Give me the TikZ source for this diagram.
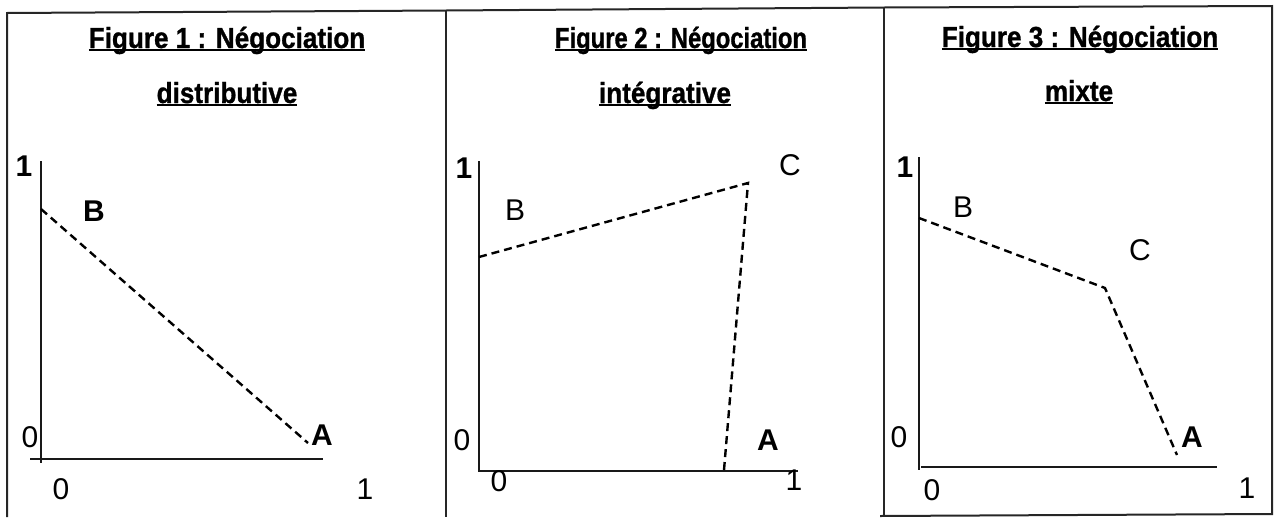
\documentclass[tikz,border=0pt]{standalone}
\usepackage{fontspec}
\setmainfont{Liberation Sans}
\newfontfamily\titlefont[FakeStretch=0.9,FakeBold=1]{Liberation Sans}
\newfontfamily\titlefontn[FakeStretch=0.82,FakeBold=1]{Liberation Sans}
\newcommand\myul[1]{\setbox0\hbox{#1}\rlap{\rule[-3.3pt]{\wd0}{2pt}}\box0}
\begin{document}
\begin{tikzpicture}[x=1pt,y=-1pt,
  frame/.style={line width=2pt,black!85},
  axis/.style={line width=2.8pt,black!90},
  dashline/.style={line width=2.4pt,dash pattern=on 8pt off 5pt},
  ttl/.style={anchor=base,inner sep=0pt,font={\fontsize{29}{29}\selectfont\titlefont\bfseries}},
  ttln/.style={anchor=base,inner sep=0pt,font={\fontsize{29}{29}\selectfont\titlefontn\bfseries}},
  lab/.style={inner sep=0pt,font={\fontsize{30}{30}\selectfont}},
  labb/.style={inner sep=0pt,font={\fontsize{30}{30}\selectfont\bfseries}}]
\useasboundingbox (0,0) rectangle (1274,517);
% frames
\coordinate (tl) at (7,13);
\coordinate (t1) at (446,10.5);
\coordinate (t2) at (884,7.5);
\coordinate (tr) at (1272,6);
\coordinate (bl) at (7,517);
\coordinate (b1) at (446,517);
\coordinate (b2) at (884,516);
\coordinate (b2l) at (880,516);
\coordinate (br) at (1272,514);
\draw[frame] (bl) -- (tl) -- (t1) -- (t2) -- (tr) -- (br) -- (b2l);
\draw[frame] (t1) -- (b1);
\draw[frame] (t2) -- (b2);

% ---------- Figure 1 ----------
\node[ttl] (t1a) at (227,48) {\myul{Figure 1 : Négociation}};
\node[ttl] (t1b) at (227,103) {\myul{distributive}};
\coordinate (y1top) at (41,161);
\coordinate (y1bot) at (41,463);
\coordinate (x1l) at (30,459);
\coordinate (x1r) at (323,459);
\draw[axis] (y1top) -- (y1bot);
\draw[axis] (x1l) -- (x1r);
\coordinate (f1b) at (41,209);
\coordinate (f1a) at (308,443);
\draw[dashline] (f1b) -- (f1a);
\node[labb] (l1y1) at (24,166) {1};
\node[lab] (l1y0) at (30,437) {0};
\node[lab] (l1x0) at (61,489) {0};
\node[lab] (l1x1) at (365,489) {1};
\node[labb] (l1B) at (94,211) {B};
\node[labb] (l1A) at (322,435) {A};

% ---------- Figure 2 ----------
\node[ttln] (t2a) at (681,48) {\myul{Figure 2 : Négociation}};
\node[ttl] (t2b) at (665,103) {\myul{intégrative}};
\coordinate (y2top) at (479,161);
\coordinate (y2bot) at (479,472);
\coordinate (x2l) at (479,471);
\coordinate (x2r) at (798,471);
\draw[axis] (y2top) -- (y2bot);
\draw[axis] (x2l) -- (x2r);
\coordinate (f2b) at (479,257);
\coordinate (f2c) at (748,183);
\coordinate (f2a) at (724,470);
\draw[dashline] (f2b) -- (f2c) -- (f2a);
\node[labb] (l2y1) at (464,168) {1};
\node[lab] (l2y0) at (462,440) {0};
\node[lab] (l2x0) at (499,481) {0};
\node[lab] (l2x1) at (794,480) {1};
\node[lab] (l2B) at (515,210) {B};
\node[lab] (l2C) at (790,165) {C};
\node[labb] (l2A) at (768,440) {A};

% ---------- Figure 3 ----------
\node[ttl] (t3a) at (1080,47) {\myul{Figure 3 : Négociation}};
\node[ttl] (t3b) at (1079,101) {\myul{mixte}};
\coordinate (y3top) at (919,157);
\coordinate (y3bot) at (919,470);
\coordinate (x3l) at (921,467);
\coordinate (x3r) at (1217,467);
\draw[axis] (y3top) -- (y3bot);
\draw[axis] (x3l) -- (x3r);
\coordinate (f3b) at (919,218);
\coordinate (f3c) at (1105,288);
\coordinate (f3a) at (1177,455);
\draw[dashline] (f3b) -- (f3c) -- (f3a);
\node[labb] (l3y1) at (905,167) {1};
\node[lab] (l3y0) at (899,437) {0};
\node[lab] (l3x0) at (932,490) {0};
\node[lab] (l3x1) at (1247,488) {1};
\node[lab] (l3B) at (963,207) {B};
\node[lab] (l3C) at (1140,250) {C};
\node[labb] (l3A) at (1192,437) {A};
\end{tikzpicture}
\end{document}
